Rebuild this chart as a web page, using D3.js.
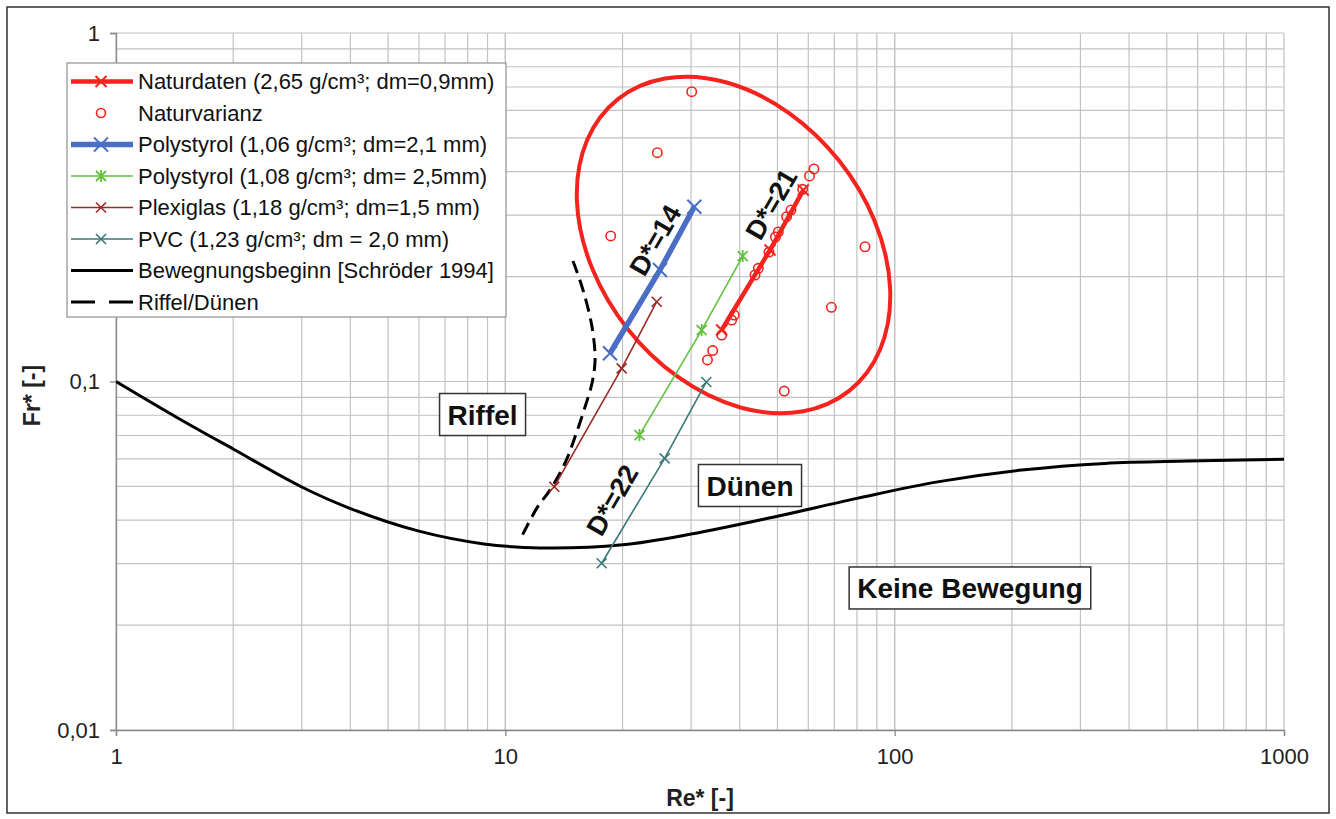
<!DOCTYPE html>
<html><head><meta charset="utf-8">
<script src="https://cdn.jsdelivr.net/npm/d3@7/dist/d3.min.js"></script>
<style>
body{margin:0;background:#fff;}
text{font-family:"Liberation Sans",Arial,sans-serif;}
</style></head>
<body><svg id="chart" width="1336" height="819"></svg>
<script>
// ---------- DATA ----------
const xTicks = [1, 10, 100, 1000];
const xTickLabels = ["1", "10", "100", "1000"];
const yTicks = [0.01, 0.1, 1];
const yTickLabels = ["0,01", "0,1", "1"];

const naturRe = [35.95, 47.85, 58.25];
const naturFr = [0.1405, 0.2384, 0.3543];

const varianzRe = [30.11, 24.57, 18.65, 83.9, 68.8, 52.05, 62.06, 60.43, 58.04, 54.16, 52.80, 50.24, 49.41, 47.55, 44.65, 43.79, 38.73, 38.14, 35.95, 34.09, 33.05];
const varianzFr = [0.6785, 0.4535, 0.2616, 0.2436, 0.1633, 0.0939, 0.4072, 0.3888, 0.3560, 0.3105, 0.2971, 0.2685, 0.2598, 0.2352, 0.2112, 0.2021, 0.1551, 0.1501, 0.1359, 0.1227, 0.1153];

const poly106Re = [18.57, 24.96, 30.58];
const poly106Fr = [0.1205, 0.2089, 0.3173];

const poly108Re = [22.11, 31.94, 40.71];
const poly108Fr = [0.0702, 0.1405, 0.2291];

const plexiRe = [13.36, 19.90, 24.48];
const plexiFr = [0.0499, 0.1091, 0.1694];

const pvcRe = [17.68, 25.66, 32.83];
const pvcFr = [0.0301, 0.0602, 0.0997];

const beginnRe = [1, 1.43, 2, 3, 4, 6, 8.8, 12.3, 20, 30, 48.7, 80, 130, 212, 347, 567, 1000];
const beginnFr = [0.1, 0.079, 0.064, 0.0498, 0.0432, 0.0372, 0.0342, 0.0333, 0.0340, 0.0365, 0.0408, 0.0462, 0.0516, 0.0557, 0.0582, 0.0591, 0.0598];

const riffelRe = [14.92, 15.83, 16.70, 17.0, 16.70, 16.02, 15.10, 14.23, 13.02, 12.06, 11.00];
const riffelFr = [0.2218, 0.1831, 0.1433, 0.1152, 0.0990, 0.0845, 0.0693, 0.0583, 0.0488, 0.0434, 0.0358];

const legendLabels = [
  "Naturdaten (2,65 g/cm³; dm=0,9mm)",
  "Naturvarianz",
  "Polystyrol (1,06 g/cm³; dm=2,1 mm)",
  "Polystyrol (1,08 g/cm³; dm= 2,5mm)",
  "Plexiglas (1,18 g/cm³; dm=1,5 mm)",
  "PVC (1,23 g/cm³; dm = 2,0 mm)",
  "Bewegnungsbeginn [Schröder 1994]",
  "Riffel/Dünen"
];

const regionLabels = ["Riffel", "Dünen", "Keine Bewegung"];
const regionRe = [8.74, 42.5, 156.1];
const regionFr = [0.0804, 0.0503, 0.02556];

const dLabels = ["D*=14", "D*=21", "D*=22"];
const dRe = [24.23, 48.1, 18.79];
const dFr = [0.2547, 0.3231, 0.0457];

// ellipse (centre in data units, semi-axes in decades of Re*)
const ellipseCenter = [38.56, 0.2464];
const ellipseAxes = [0.478, 0.347];
const ellipseAngle = 51.6;

// ---------- STYLE ----------
const RED = "#f5231e", BLUE = "#4a6ec6", GREEN = "#62c23e", BROWN = "#9a2a28", TEAL = "#3b7878";

const svg = d3.select("#chart");
const x = d3.scaleLog().domain([1, 1000]).range([116, 1284]);
const y = d3.scaleLog().domain([0.01, 1]).range([730, 33]);

// frame
svg.append("rect").attr("x", 7).attr("y", 7).attr("width", 1322).attr("height", 806)
  .attr("fill", "#fff").attr("stroke", "#333").attr("stroke-width", 1.5);

// grid
const xGrid = [];
for (let d = 1; d < 1000; d *= 10) for (let k = 1; k <= 10; k++) xGrid.push(d * k);
const yGrid = [];
for (let d = 0.01; d < 1; d *= 10) for (let k = 1; k <= 10; k++) yGrid.push(+(d * k).toPrecision(3));
const g = svg.append("g");
g.selectAll(".vg").data(xGrid).join("line")
  .attr("x1", d => x(d)).attr("x2", d => x(d)).attr("y1", y(1)).attr("y2", y(0.01))
  .attr("stroke", "#c2c2c2").attr("stroke-width", 1.2);
g.selectAll(".hg").data(yGrid).join("line")
  .attr("x1", x(1)).attr("x2", x(1000)).attr("y1", d => y(d)).attr("y2", d => y(d))
  .attr("stroke", "#c2c2c2").attr("stroke-width", 1.2);

// axes
const xAxis = d3.axisBottom(x).tickValues(xTicks).tickFormat((d, i) => xTickLabels[i]).tickSize(6).tickPadding(12);
const yAxis = d3.axisLeft(y).tickValues(yTicks).tickFormat((d, i) => yTickLabels[i]).tickSize(6).tickPadding(10);
const gx = svg.append("g").attr("transform", `translate(0,${y(0.01)})`).call(xAxis);
const gy = svg.append("g").attr("transform", `translate(${x(1)},0)`).call(yAxis);
[gx, gy].forEach(a => {
  a.select(".domain").attr("stroke", "#888").attr("stroke-width", 1.3);
  a.selectAll(".tick line").attr("stroke", "#888").attr("stroke-width", 1.3);
  a.selectAll(".tick text").attr("font-size", 22).attr("fill", "#222")
    .attr("font-family", '"Liberation Sans",Arial,sans-serif');
});

svg.append("text").attr("x", (x(1) + x(1000)) / 2).attr("y", 806).attr("text-anchor", "middle")
  .attr("font-size", 23).attr("font-weight", "bold").attr("fill", "#222").text("Re* [-]");
svg.append("text").attr("transform", `translate(40,${(y(1) + y(0.01)) / 2 + 14}) rotate(-90)`)
  .attr("text-anchor", "middle").attr("font-size", 23).attr("font-weight", "bold").attr("fill", "#222").text("Fr* [-]");

// clip
svg.append("clipPath").attr("id", "clip").append("rect")
  .attr("x", x(1)).attr("y", y(1)).attr("width", x(1000) - x(1)).attr("height", y(0.01) - y(1));
const plot = svg.append("g").attr("clip-path", "url(#clip)");

const line = d3.line().x(d => x(d[0])).y(d => y(d[1]));
const curve = d3.line().x(d => x(d[0])).y(d => y(d[1])).curve(d3.curveCatmullRom.alpha(0.5));
const zip = (a, b) => a.map((v, i) => [v, b[i]]);

// Bewegungsbeginn
plot.append("path").datum(zip(beginnRe, beginnFr)).attr("d", curve)
  .attr("fill", "none").attr("stroke", "#000").attr("stroke-width", 3);
// Riffel/Dünen
plot.append("path").datum(zip(riffelRe, riffelFr)).attr("d", curve)
  .attr("fill", "none").attr("stroke", "#000").attr("stroke-width", 3).attr("stroke-dasharray", "13,7");

// markers
function markPath(type, s) {
  if (type === "star") return `M${-s},${-s}L${s},${s}M${-s},${s}L${s},${-s}M0,${-s * 1.2}L0,${s * 1.2}`;
  return `M${-s},${-s}L${s},${s}M${-s},${s}L${s},${-s}`;
}
const series = [
  { re: pvcRe, fr: pvcFr, color: TEAL, w: 1.6, m: "x", ms: 5, mw: 1.6 },
  { re: plexiRe, fr: plexiFr, color: BROWN, w: 1.6, m: "x", ms: 5, mw: 1.6 },
  { re: poly108Re, fr: poly108Fr, color: GREEN, w: 1.6, m: "star", ms: 5, mw: 1.8 },
  { re: poly106Re, fr: poly106Fr, color: BLUE, w: 5.5, m: "x", ms: 7, mw: 2 },
  { re: naturRe, fr: naturFr, color: RED, w: 4.5, m: "x", ms: 5.5, mw: 2 }
];

// ellipse
const [ecx, ecy] = ellipseCenter;
const eRx = x(ecx * Math.pow(10, ellipseAxes[0])) - x(ecx);
const eRy = x(ecx * Math.pow(10, ellipseAxes[1])) - x(ecx);
plot.append("ellipse").attr("cx", 0).attr("cy", 0).attr("rx", eRx).attr("ry", eRy)
  .attr("transform", `translate(${x(ecx)},${y(ecy)}) rotate(${ellipseAngle})`)
  .attr("fill", "none").attr("stroke", RED).attr("stroke-width", 4);

series.forEach(s => {
  const pts = zip(s.re, s.fr);
  plot.append("path").datum(pts).attr("d", line).attr("fill", "none")
    .attr("stroke", s.color).attr("stroke-width", s.w);
  plot.selectAll(null).data(pts).join("path")
    .attr("transform", d => `translate(${x(d[0])},${y(d[1])})`)
    .attr("d", markPath(s.m, s.ms)).attr("stroke", s.color).attr("stroke-width", s.mw).attr("fill", "none");
});

// Naturvarianz
plot.selectAll(".vc").data(zip(varianzRe, varianzFr)).join("circle")
  .attr("cx", d => x(d[0])).attr("cy", d => y(d[1])).attr("r", 4.7)
  .attr("fill", "none").attr("stroke", RED).attr("stroke-width", 1.6);

// region labels
regionLabels.forEach((t, i) => {
  const gg = svg.append("g").attr("transform", `translate(${x(regionRe[i])},${y(regionFr[i])})`);
  const tx = gg.append("text").attr("text-anchor", "middle").attr("dy", "0.36em")
    .attr("font-size", 28).attr("font-weight", "bold").attr("fill", "#111").text(t);
  const bb = tx.node().getBBox();
  gg.insert("rect", "text").attr("x", bb.x - 8).attr("y", -21).attr("width", bb.width + 16).attr("height", 42)
    .attr("fill", "#fff").attr("stroke", "#333").attr("stroke-width", 1.5);
});

// D* labels
dLabels.forEach((t, i) => {
  svg.append("text").attr("transform", `translate(${x(dRe[i])},${y(dFr[i])}) rotate(-60)`)
    .attr("text-anchor", "middle").attr("dy", "0.36em")
    .attr("font-size", 27).attr("font-weight", "bold").attr("fill", "#111").text(t);
});

// legend
const lg = svg.append("g");
lg.append("rect").attr("x", 67).attr("y", 63).attr("width", 439).attr("height", 254)
  .attr("fill", "#fff").attr("stroke", "#999").attr("stroke-width", 1.3);
const legendStyles = [
  { color: RED, w: 4.5, m: "x", ms: 5.5, mw: 2 },
  { color: RED, circle: true },
  { color: BLUE, w: 5.5, m: "x", ms: 7, mw: 2 },
  { color: GREEN, w: 1.6, m: "star", ms: 5, mw: 1.8 },
  { color: BROWN, w: 1.6, m: "x", ms: 5, mw: 1.6 },
  { color: TEAL, w: 1.6, m: "x", ms: 5, mw: 1.6 },
  { color: "#000", w: 3 },
  { color: "#000", w: 3, dash: "24,14" }
];
const rowY = i => 81.5 + i * 31.5;
legendLabels.forEach((t, i) => {
  const st = legendStyles[i];
  const cy = rowY(i);
  if (st.circle) {
    lg.append("circle").attr("cx", 101).attr("cy", cy).attr("r", 4.5).attr("fill", "none")
      .attr("stroke", st.color).attr("stroke-width", 1.6);
  } else {
    lg.append("line").attr("x1", 71).attr("x2", 133).attr("y1", cy).attr("y2", cy)
      .attr("stroke", st.color).attr("stroke-width", st.w).attr("stroke-dasharray", st.dash || null);
    if (st.m) lg.append("path").attr("transform", `translate(101,${cy})`).attr("d", markPath(st.m, st.ms))
      .attr("stroke", st.color).attr("stroke-width", st.mw).attr("fill", "none");
  }
  lg.append("text").attr("x", 138).attr("y", cy).attr("dy", "0.36em").attr("font-size", 22)
    .attr("fill", "#111").text(t);
});
</script></body></html>
